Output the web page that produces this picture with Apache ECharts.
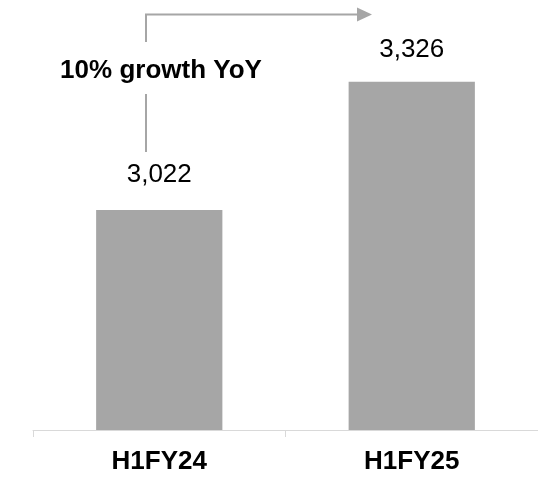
<!DOCTYPE html>
<html>
<head>
<meta charset="utf-8">
<script src="https://cdn.jsdelivr.net/npm/echarts@6/dist/echarts.min.js"></script>
<style>
html,body{margin:0;padding:0;background:#fff;}
#c{width:538px;height:483px;}
</style>
</head>
<body>
<div id="c"></div>
<script>
var categories = ['H1FY24', 'H1FY25'];
var revenue = [3022, 3326];
var growthLabel = '10% growth YoY';

var FONT = '"Liberation Sans", Arial, sans-serif';
var GRAY = '#a6a6a6';
var labelGaps = [22, 19];

var chart = echarts.init(document.getElementById('c'), null, {renderer: 'canvas'});
var option = {
  animation: false,
  backgroundColor: '#ffffff',
  grid: {left: 33, right: 0, top: 8.5, bottom: 53, containLabel: false},
  xAxis: {
    type: 'category',
    data: categories,
    axisLine: {show: true, lineStyle: {color: '#d9d9d9', width: 1}},
    axisTick: {show: true, length: 7, lineStyle: {color: '#d9d9d9'}},
    axisLabel: {
      margin: 19,
      fontFamily: FONT, fontSize: 26, fontWeight: 'bold', color: '#000'
    }
  },
  yAxis: {
    type: 'value', min: 2500, max: 3500, show: false,
    splitLine: {show: false}
  },
  series: [{
    type: 'bar',
    data: revenue.map(function (v, i) {
      return {value: v, label: {distance: labelGaps[i]}};
    }),
    barWidth: '50%',
    itemStyle: {color: GRAY},
    label: {
      show: true, position: 'top', distance: 22,
      fontFamily: FONT, fontSize: 26, color: '#000',
      formatter: function (p) { return p.value.toLocaleString('en-US'); }
    }
  }],
  graphic: [
    {type: 'polyline', shape: {points: [[146, 42], [146, 14.5], [358, 14.5]]},
      style: {stroke: GRAY, lineWidth: 2, fill: null}},
    {type: 'polygon', shape: {points: [[357, 7.5], [372, 14.5], [357, 21.5]]},
      style: {fill: GRAY}},
    {type: 'line', shape: {x1: 146, y1: 94, x2: 146, y2: 152},
      style: {stroke: GRAY, lineWidth: 2}},
    {type: 'text', x: 161, y: 71,
      style: {text: growthLabel, font: 'bold 26px ' + FONT, fill: '#000',
        textAlign: 'center', textVerticalAlign: 'middle'}}
  ]
};
chart.setOption(option);
</script>
</body>
</html>
